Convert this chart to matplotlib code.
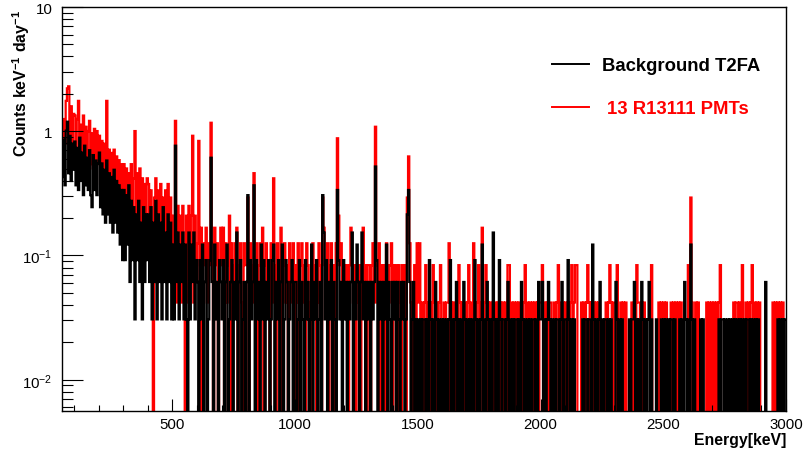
import numpy as np
import matplotlib
matplotlib.use('Agg')
import matplotlib.pyplot as plt
from matplotlib.ticker import FixedLocator, FixedFormatter, MultipleLocator, LogLocator, NullFormatter

# histogram binning (keV)
e_min, e_max, bin_width = 50, 3000, 5

# counts per bin; one row = 100 keV (first row 50-100)
black_counts = [
    14, 28, 12, 33, 39, 15, 30, 13, 26, 16,
    27, 12, 24, 11, 29, 13, 22, 10, 25, 12, 20, 11, 23, 10, 8, 21, 11, 19, 10, 18,
    22, 8, 18, 7, 16, 6, 19, 7, 15, 6, 14, 5, 16, 6, 13, 5, 12, 4, 11, 3,
    11, 3, 10, 4, 12, 2, 9, 3, 8, 1, 7, 3, 9, 2, 6, 1, 8, 2, 7, 3,
    7, 2, 8, 1, 6, 2, 9, 1, 7, 2, 6, 1, 8, 2, 5, 1, 7, 2, 6, 1,
    4, 1, 25, 2, 5, 1, 4, 2, 5, 1, 4, 1, 0, 5, 1, 4, 2, 5, 1, 3,
    2, 0, 3, 1, 4, 0, 2, 3, 0, 1, 3, 20, 2, 0, 4, 1, 2, 0, 3, 2,
    1, 3, 0, 2, 4, 0, 1, 2, 3, 0, 2, 1, 5, 0, 2, 3, 0, 1, 2, 0,
    2, 10, 0, 3, 1, 2, 12, 0, 3, 1, 2, 0, 4, 1, 3, 0, 2, 1, 3, 0,
    1, 3, 4, 0, 2, 1, 3, 0, 2, 4, 0, 1, 3, 2, 0, 1, 2, 3, 0, 2,
    2, 0, 1, 3, 0, 2, 1, 0, 3, 1, 2, 0, 1, 4, 0, 2, 1, 3, 0, 1,
    2, 0, 10, 5, 1, 3, 0, 2, 1, 3, 0, 2, 1, 0, 11, 3, 1, 2, 0, 3,
    1, 2, 0, 2, 1, 2, 5, 0, 2, 1, 4, 2, 0, 2, 5, 1, 2, 0, 2, 1,
    2, 0, 2, 1, 2, 17, 3, 0, 2, 1, 2, 0, 2, 1, 4, 0, 2, 1, 0, 2,
    1, 2, 0, 2, 1, 0, 2, 1, 2, 0, 1, 7, 11, 2, 0, 1, 2, 0, 1, 0,
    1, 0, 1, 0, 1, 1, 0, 1, 0, 3, 1, 0, 1, 0, 2, 1, 0, 1, 0, 1,
    0, 1, 0, 1, 0, 1, 3, 0, 1, 0, 1, 2, 0, 1, 0, 1, 0, 2, 1, 0,
    1, 0, 1, 0, 1, 0, 3, 1, 0, 1, 0, 1, 4, 0, 1, 0, 2, 1, 0, 1,
    0, 5, 1, 0, 1, 0, 3, 1, 0, 1, 1, 0, 1, 2, 0, 1, 0, 1, 0, 1,
    1, 0, 1, 0, 2, 1, 0, 1, 0, 1, 0, 1, 0, 1, 1, 0, 1, 0, 2, 1,
    1, 2, 0, 1, 0, 1, 2, 1, 0, 1, 0, 1, 0, 1, 1, 0, 1, 2, 0, 1,
    1, 0, 3, 1, 0, 1, 0, 1, 0, 0, 0, 0, 0, 0, 1, 0, 1, 1, 0, 1,
    1, 0, 4, 1, 0, 1, 0, 1, 2, 0, 1, 0, 1, 1, 0, 1, 0, 1, 0, 0,
    0, 2, 1, 0, 1, 0, 1, 0, 0, 0, 0, 0, 1, 0, 1, 1, 2, 0, 1, 0,
    1, 0, 2, 1, 0, 1, 0, 1, 2, 0, 1, 0, 0, 0, 1, 0, 0, 0, 1, 0,
    1, 0, 1, 0, 1, 0, 1, 1, 0, 1, 0, 0, 0, 1, 0, 1, 0, 2, 1, 0,
    1, 0, 4, 1, 0, 1, 0, 0, 0, 0, 1, 0, 1, 0, 0, 0, 0, 0, 0, 0,
    0, 0, 0, 0, 0, 1, 0, 1, 1, 0, 1, 0, 1, 0, 1, 0, 1, 0, 1, 0,
    1, 0, 1, 0, 1, 0, 1, 0, 1, 1, 0, 1, 0, 1, 0, 1, 0, 1, 0, 0,
    0, 0, 0, 2, 0, 0, 0, 0, 0, 0, 0, 0, 0, 1, 0, 1, 0, 1, 0, 1,
]
red_counts = [
    16, 30, 19, 42, 53, 55, 20, 38, 18, 33,
    32, 14, 30, 42, 15, 27, 13, 32, 14, 26, 12, 24, 29, 13, 23, 12, 25, 12, 24, 13,
    22, 9, 20, 8, 19, 10, 42, 8, 17, 8, 16, 7, 17, 8, 15, 7, 14, 6, 13, 6,
    13, 5, 12, 4, 11, 6, 13, 5, 10, 24, 4, 11, 5, 12, 4, 10, 5, 9, 4, 10,
    9, 3, 8, 2, 0, 7, 10, 3, 8, 2, 9, 3, 7, 2, 8, 3, 9, 2, 7, 3,
    5, 2, 29, 1, 6, 2, 5, 1, 6, 2, 0, 5, 1, 6, 2, 5, 22, 1, 5, 2,
    3, 20, 0, 4, 0, 3, 2, 4, 1, 3, 2, 28, 3, 0, 4, 2, 3, 0, 2, 4,
    2, 4, 0, 3, 1, 2, 5, 0, 3, 2, 1, 3, 4, 0, 2, 3, 1, 0, 3, 2,
    2, 7, 0, 3, 2, 1, 11, 2, 3, 0, 2, 3, 1, 4, 0, 2, 3, 1, 2, 0,
    3, 1, 10, 2, 0, 3, 2, 1, 4, 0, 2, 3, 1, 2, 0, 3, 1, 2, 3, 0,
    2, 1, 3, 0, 2, 3, 1, 2, 0, 3, 2, 1, 0, 2, 3, 1, 2, 0, 1, 3,
    2, 0, 7, 4, 2, 1, 3, 0, 2, 3, 1, 2, 0, 3, 21, 5, 2, 3, 1, 2,
    2, 1, 2, 0, 2, 4, 2, 1, 2, 0, 2, 1, 2, 0, 2, 4, 1, 2, 0, 2,
    2, 0, 2, 3, 1, 26, 2, 1, 3, 0, 2, 1, 2, 0, 3, 2, 1, 2, 3, 0,
    2, 1, 2, 0, 2, 1, 0, 2, 1, 2, 0, 7, 15, 3, 1, 0, 1, 2, 0, 3,
    1, 3, 0, 1, 0, 1, 2, 0, 1, 0, 1, 0, 2, 1, 0, 1, 0, 1, 2, 0,
    0, 1, 0, 1, 1, 3, 0, 1, 0, 1, 0, 1, 0, 2, 1, 0, 1, 0, 1, 0,
    1, 2, 0, 1, 0, 3, 1, 0, 1, 2, 0, 1, 4, 0, 1, 2, 0, 1, 0, 1,
    0, 1, 0, 1, 0, 1, 0, 1, 0, 1, 0, 1, 0, 2, 2, 0, 1, 0, 1, 0,
    1, 0, 1, 0, 1, 0, 1, 2, 0, 1, 0, 1, 0, 1, 0, 1, 0, 1, 0, 1,
    1, 2, 0, 1, 0, 1, 0, 1, 1, 0, 0, 1, 0, 1, 2, 0, 1, 0, 1, 0,
    1, 0, 1, 0, 1, 2, 0, 1, 2, 2, 0, 0, 0, 1, 0, 1, 0, 1, 2, 1,
    0, 1, 0, 1, 0, 1, 0, 1, 0, 0, 0, 0, 0, 1, 0, 1, 2, 1, 0, 1,
    1, 0, 2, 0, 0, 1, 0, 1, 0, 1, 0, 0, 0, 0, 1, 0, 1, 0, 2, 1,
    1, 0, 1, 0, 1, 0, 0, 0, 0, 0, 2, 0, 0, 0, 0, 0, 1, 0, 1, 0,
    1, 0, 1, 0, 0, 0, 1, 0, 1, 0, 1, 0, 1, 0, 1, 0, 0, 0, 0, 0,
    2, 0, 7, 1, 0, 0, 1, 0, 1, 0, 0, 0, 0, 0, 0, 1, 0, 1, 0, 1,
    0, 1, 0, 1, 0, 1, 2, 0, 0, 0, 0, 0, 0, 0, 0, 0, 0, 1, 0, 1,
    1, 0, 1, 0, 2, 0, 0, 1, 0, 1, 0, 1, 2, 0, 1, 0, 1, 0, 1, 0,
    0, 0, 0, 0, 0, 0, 0, 0, 0, 1, 0, 1, 0, 1, 0, 1, 0, 1, 0, 0,
]
# counts keV^-1 day^-1 for one count in a bin
black_scale = 0.0306
red_scale = 0.0418

y_ticks = [0.01, 0.1, 1, 10]
y_tick_labels = [r'$\mathregular{10^{-2}}$', r'$\mathregular{10^{-1}}$', '1', '10']

plt.rcParams['font.family'] = ['Liberation Sans', 'DejaVu Sans']
plt.rcParams['mathtext.fontset'] = 'custom'
plt.rcParams['mathtext.rm'] = 'Liberation Sans'
plt.rcParams['mathtext.bf'] = 'Liberation Sans:bold'
plt.rcParams['mathtext.it'] = 'Liberation Sans:italic'

edges = np.arange(e_min, e_max + bin_width, bin_width)
black = np.array(black_counts, dtype=float) * black_scale
red = np.array(red_counts, dtype=float) * red_scale
# empty bins drop to the bottom of the frame like in ROOT
black[black <= 0] = 1e-6
red[red <= 0] = 1e-6

fig = plt.figure(figsize=(8.05, 4.52), dpi=100)
ax = fig.add_axes([62/805, 1 - 412/452, 724/805, 404/452])

ax.stairs(red, edges, color='#ff0000', linewidth=1.6, baseline=None)
ax.stairs(black, edges, color='black', linewidth=1.6, baseline=None)

ax.set_yscale('log')
ax.set_xlim(e_min, e_max)
ax.set_ylim(0.0056, 10)

ax.yaxis.set_major_locator(FixedLocator(y_ticks))
ax.yaxis.set_major_formatter(FixedFormatter(y_tick_labels))
ax.yaxis.set_minor_locator(LogLocator(base=10, subs=np.arange(2, 10)))
ax.yaxis.set_minor_formatter(NullFormatter())
ax.xaxis.set_major_locator(MultipleLocator(500))
ax.xaxis.set_minor_locator(MultipleLocator(100))

ax.tick_params(axis='both', which='both', direction='in', width=0.8,
               top=False, right=False, labelsize=10.8, color='black')
ax.tick_params(axis='x', which='major', length=8.6, pad=4)
ax.tick_params(axis='x', which='minor', length=4.3)
ax.tick_params(axis='y', which='major', length=14.9, pad=7)
ax.tick_params(axis='y', which='minor', length=7.7)
for sp in ax.spines.values():
    sp.set_linewidth(1.0)
    sp.set_zorder(3)

fig.text(786/805, 1 - 441/452, 'Energy[keV]', ha='right', va='center',
         fontsize=11.4, fontweight='bold')
fig.text(21/805, 1 - 10/452, r'Counts keV$^{\mathbf{-1}}$ day$^{\mathbf{-1}}$',
         rotation=90, ha='center', va='top', fontsize=11.4, fontweight='bold')

# legend
ax.plot([552/805, 589/805], [1 - 65/452, 1 - 65/452], color='black', lw=1.4,
        transform=fig.transFigure, clip_on=False)
ax.plot([552/805, 589/805], [1 - 108/452, 1 - 108/452], color='#ff0000', lw=1.4,
        transform=fig.transFigure, clip_on=False)
fig.text(602/805, 1 - 70.7/452, 'Background T2FA', ha='left', va='baseline',
         fontsize=13.3, fontweight='bold', color='black')
fig.text(607/805, 1 - 114.3/452, '13 R13111 PMTs', ha='left', va='baseline',
         fontsize=13.3, fontweight='bold', color='#ff0000')

fig.savefig('out.png', dpi=100)
